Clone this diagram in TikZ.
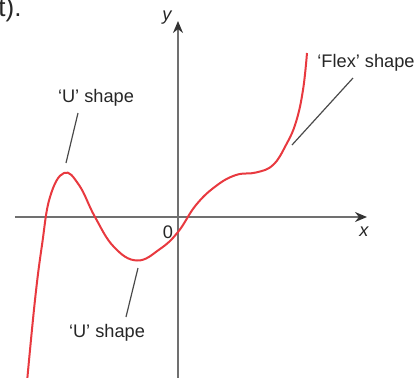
\documentclass[tikz,border=0pt]{standalone}
\usepackage{fontspec}
\setmainfont{Liberation Sans}
\usetikzlibrary{arrows.meta}

\definecolor{curvered}{HTML}{E8393F}
\definecolor{axisgrey}{HTML}{707070}
\definecolor{pointergrey}{HTML}{4A4A4A}

\begin{document}
\begin{tikzpicture}[x=0.5pt, y=0.5pt, >=Stealth,
  axis/.style={draw=axisgrey, line width=0.8pt, -{Stealth[length=6pt, width=5pt, color=black!80]}},
  graph/.style={draw=curvered, line width=1pt, smooth, tension=0.7},
  pointer/.style={draw=pointergrey, line width=0.6pt},
  label text/.style={font=\fontsize{9.1}{11}\selectfont, text=black!85, inner sep=0pt, anchor=base},
  axis label/.style={font=\fontsize{9.1}{11}\selectfont\itshape, text=black!85, inner sep=0pt}]
  \useasboundingbox (-178,-160) rectangle (242,217);

  % cut-off text from the page above
  \node[font=\fontsize{13}{15}\selectfont, text=black!85, inner sep=0pt, anchor=base east] (cut text) at (-156,201) {t).};

  % axes
  \coordinate (x start) at (-163,0);
  \coordinate (x end) at (189,0);
  \coordinate (y start) at (0,-162);
  \coordinate (y end) at (0,196);
  \draw[axis] (x start) -- (x end);
  \draw[axis] (y start) -- (y end);
  \node[axis label] (x label) at (186,-15) {x};
  \node[axis label] (y label) at (-11,199) {y};
  \node[label text] (origin) at (-10,-21) {0};

  % the curve
  \draw[graph] plot coordinates {(-151,-165) (-143,-83) (-136,-28) (-128,20)
    (-114,44) (-99,32) (-83,0) (-64,-30) (-41,-43.5) (-18,-32) (0,-15)
    (18,12) (38,31) (58,42) (78,44.5) (95,52) (108,72) (118,95) (125,127) (129,164)};

  % labels and pointers
  \node[label text] (max label) at (-82,115) {‘U’ shape};
  \node[label text] (min label) at (-71,-120) {‘U’ shape};
  \node[label text] (flex label) at (188,150) {‘Flex’ shape};

  \coordinate (max from) at (-100,104);
  \coordinate (max to) at (-112,54);
  \coordinate (min from) at (-40,-51);
  \coordinate (min to) at (-52,-100);
  \coordinate (flex from) at (175,139);
  \coordinate (flex to) at (114,72);
  \draw[pointer] (max from) -- (max to);
  \draw[pointer] (min from) -- (min to);
  \draw[pointer] (flex from) -- (flex to);
\end{tikzpicture}
\end{document}
